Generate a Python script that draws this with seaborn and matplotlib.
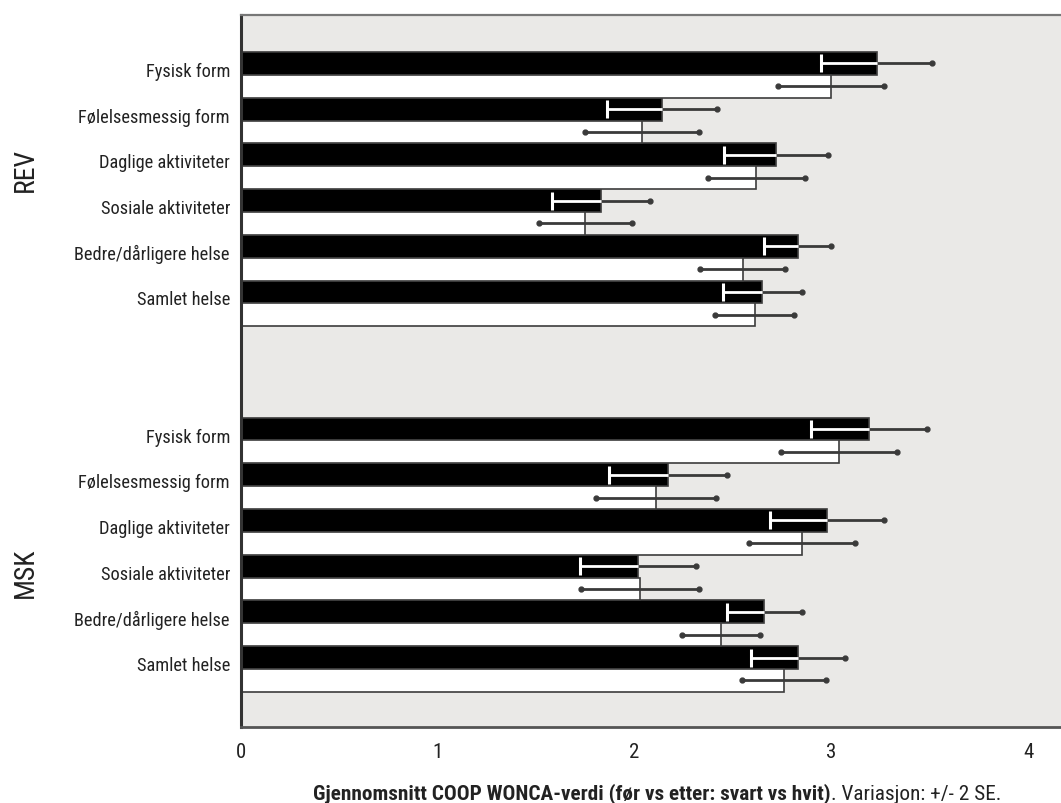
import numpy as np
import pandas as pd
import matplotlib.pyplot as plt
import matplotlib.transforms as mtransforms
import seaborn as sns

# categories (same for both groups)
categories = ["Fysisk form", "Følelsesmessig form", "Daglige aktiviteter",
              "Sosiale aktiviteter", "Bedre/dårligere helse", "Samlet helse"]
groups = ["REV", "MSK"]
periods = ["før", "etter"]  # black vs white

# mean COOP WONCA values
rev_before = [3.23, 2.14, 2.72, 1.83, 2.83, 2.65]
rev_after = [3.00, 2.04, 2.62, 1.75, 2.55, 2.61]
msk_before = [3.19, 2.17, 2.98, 2.02, 2.66, 2.83]
msk_after = [3.04, 2.11, 2.85, 2.03, 2.44, 2.76]

# +/- 2 SE
rev_before_err = [0.28, 0.28, 0.265, 0.25, 0.17, 0.20]
rev_after_err = [0.27, 0.29, 0.245, 0.235, 0.215, 0.20]
msk_before_err = [0.295, 0.30, 0.29, 0.295, 0.19, 0.24]
msk_after_err = [0.295, 0.305, 0.27, 0.30, 0.20, 0.215]

x_ticks = [0, 1, 2, 3, 4]

# build long table
rows = []
series = {
    ("REV", "før"): (rev_before, rev_before_err),
    ("REV", "etter"): (rev_after, rev_after_err),
    ("MSK", "før"): (msk_before, msk_before_err),
    ("MSK", "etter"): (msk_after, msk_after_err),
}
for (grp, per), (vals, errs) in series.items():
    for cat, v, e in zip(categories, vals, errs):
        rows.append({"key": f"{grp}|{cat}", "period": per, "value": v, "err": e})
df = pd.DataFrame(rows)

# two empty slots separate the groups
order = [f"REV|{c}" for c in categories] + ["gap1", "gap2"] + [f"MSK|{c}" for c in categories]

sns.set_style("white")
plt.rcParams['font.family'] = ['Roboto Condensed', 'DejaVu Sans']

fig = plt.figure(figsize=(10.61, 8.04), dpi=100)
ax = fig.add_axes([241 / 1061, 76 / 804, 820 / 1061, 712 / 804])
ax.set_facecolor("#EAE9E7")

sns.barplot(
    data=df, y="key", x="value", hue="period",
    order=order, hue_order=periods,
    palette={"før": "black", "etter": "white"},
    orient="h", width=1.0, dodge=True, errorbar=None,
    edgecolor="#3c3c3c", linewidth=1.2, legend=False, ax=ax,
)

# error bars, placed on the bars seaborn drew
err_lookup = {(r.key, r.period): r.err for r in df.itertuples()}
for per, cont in zip(periods, ax.containers):
    for bar in cont:
        w = bar.get_width()
        if np.isnan(w):
            continue
        yc = bar.get_y() + bar.get_height() / 2
        key = order[int(round(yc))]
        e = err_lookup[(key, per)]
        if per == "før":
            ax.plot([w, w + e], [yc, yc], color="#3a3a3a", lw=2, marker="o", ms=3.5,
                    markevery=[1], solid_capstyle="butt", zorder=4)
            ax.plot([w - e, w], [yc, yc], color="white", lw=2, marker="|", ms=13,
                    mew=2.2, markevery=[0], solid_capstyle="butt", zorder=5)
        else:
            ax.plot([w - e, w + e], [yc, yc], color="#3a3a3a", lw=2, marker="o", ms=3.5,
                    solid_capstyle="butt", zorder=4)

ax.set_xlim(0, 820 / 196.75)
ax.set_ylim(14.27, -1.31)

# y labels
ytick_pos = [i for i, k in enumerate(order) if "|" in k]
ax.set_yticks(ytick_pos)
ax.set_yticklabels([order[i].split("|")[1] for i in ytick_pos], fontsize=13.2, color="#222222")
ax.tick_params(axis="y", which="major", length=0, pad=8)
offset = mtransforms.ScaledTranslation(0, 0.06, fig.dpi_scale_trans)
for lab in ax.get_yticklabels():
    lab.set_transform(lab.get_transform() + offset)
ax.set_yticks([2.5, 10.5], minor=True)
ax.tick_params(axis="y", which="minor", length=8, width=1.3, color="#444444", direction="out")
ax.set_ylabel("")

# x axis
ax.set_xticks(x_ticks)
ax.set_xticklabels([str(t) for t in x_ticks], fontsize=15, color="#222222")
ax.tick_params(axis="x", length=7, width=2, color="#555555", direction="out", pad=4)
ax.set_xlabel("")

ax.spines["right"].set_visible(False)
ax.spines["left"].set_color("#333333")
ax.spines["left"].set_linewidth(2.2)
ax.spines["top"].set_color("#777777")
ax.spines["top"].set_linewidth(1.6)
ax.spines["bottom"].set_color("#555555")
ax.spines["bottom"].set_linewidth(2)

# group labels
fig.text(25 / 1061, 1 - 170 / 804, "REV", rotation=90, ha="center", va="center",
         fontsize=20, color="#222222")
fig.text(25 / 1061, 1 - 573 / 804, "MSK", rotation=90, ha="center", va="center",
         fontsize=20, color="#222222")

# axis title: bold part + normal part
t1 = fig.text(313 / 1061, 1 - 799 / 804, "Gjennomsnitt COOP WONCA-verdi (før vs etter: svart vs hvit)",
              ha="left", va="baseline", fontsize=15.3, fontweight="bold", color="#222222")
ax.annotate(". Variasjon: +/- 2 SE.", xy=(1, 0), xycoords=t1, ha="left", va="bottom",
            fontsize=15.3, color="#222222", annotation_clip=False)

fig.savefig("out.png", dpi=100, facecolor="white")
